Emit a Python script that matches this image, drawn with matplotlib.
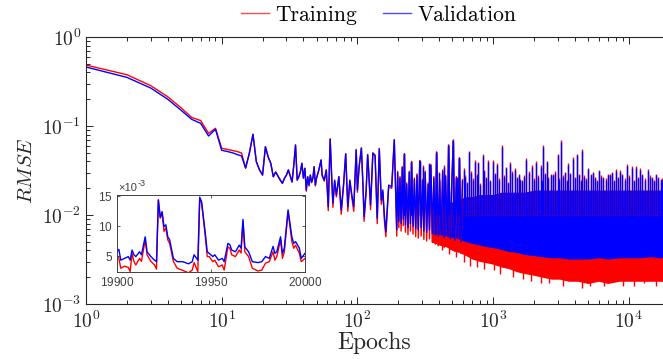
import numpy as np
import matplotlib
matplotlib.use('Agg')
import matplotlib.pyplot as plt
from matplotlib.lines import Line2D

plt.rcParams['font.family'] = 'cmr10'
plt.rcParams['mathtext.fontset'] = 'cm'
plt.rcParams['axes.formatter.use_mathtext'] = True

# --- individual epochs, read point by point ---
epochs_early = [1, 2, 3, 4, 5, 6, 7, 8, 9, 10, 11, 12, 13, 14, 15, 16, 17, 18, 19, 20,
                21, 22, 23, 24, 25, 26, 27, 28, 29, 30, 31, 32, 33, 34, 35, 36, 37, 38, 39, 40,
                41, 42, 43, 44, 45, 46, 47, 48, 49, 50, 52, 54, 55, 57, 59, 61, 63, 65, 66, 68,
                70, 73, 76, 79, 82, 85, 88, 91, 94, 98, 100, 103, 107, 110, 112, 116, 119, 121, 125, 130,
                135, 140, 145, 150, 154, 158, 162, 170, 179, 187, 190, 195,
                198, 202, 206, 210, 214, 218, 222, 226, 231, 236, 241, 246, 251, 257, 263, 269,
                275, 281, 288, 295, 302, 309, 316, 324, 332, 340, 348, 357, 366, 375, 384, 394,
                404, 414, 425, 436, 447, 459, 471, 483, 496, 509, 522, 536, 550, 565, 580, 595]
val_early = [0.460, 0.352, 0.267, 0.200, 0.151, 0.119, 0.107, 0.0772, 0.0918, 0.0533,
             0.0517, 0.0500, 0.0478, 0.0460, 0.0337, 0.0497, 0.0807, 0.0397, 0.0321, 0.0281,
             0.0585, 0.0449, 0.0381, 0.0269, 0.0304, 0.0274, 0.0247, 0.0227, 0.0258, 0.0281,
             0.0321, 0.0274, 0.0235, 0.0365, 0.0612, 0.0247, 0.0269, 0.0304, 0.0381, 0.0260,
             0.0335, 0.0191, 0.0269, 0.0217, 0.0281, 0.0235, 0.0260, 0.0349, 0.0217, 0.0260,
             0.0321, 0.0415, 0.0281, 0.0247, 0.0321, 0.0124, 0.0709, 0.0217, 0.0136, 0.0247,
             0.0168, 0.0269, 0.0114, 0.0217, 0.0484, 0.0124, 0.0247, 0.0168, 0.0124, 0.0537,
             0.0191, 0.0349, 0.0562, 0.0217, 0.0096, 0.0191, 0.0472, 0.0321, 0.0130, 0.0493,
             0.0464, 0.0092, 0.0552, 0.0147, 0.0191, 0.0100, 0.0065, 0.0217, 0.0208, 0.0696,
             0.0281, 0.0068,
             0.030, 0.0085, 0.026, 0.0080, 0.034, 0.0090, 0.048, 0.0078, 0.022, 0.0072,
             0.030, 0.0080, 0.039, 0.0075, 0.025, 0.0070, 0.028, 0.0068, 0.040, 0.0072,
             0.024, 0.0066, 0.030, 0.0064, 0.022, 0.0068, 0.036, 0.0062, 0.026, 0.0060,
             0.050, 0.0058, 0.024, 0.0060, 0.031, 0.0056, 0.027, 0.0058, 0.060, 0.0054,
             0.022, 0.068, 0.0052, 0.026, 0.0055, 0.043, 0.0050, 0.024]
train_early = [0.484, 0.377, 0.284, 0.213, 0.161, 0.125, 0.115, 0.0828, 0.0942, 0.0562,
               0.0545, 0.0531, 0.0517, 0.0497, 0.0337, 0.0497, 0.0807, 0.0397, 0.0321, 0.0281,
               0.0585, 0.0449, 0.0381, 0.0269, 0.0304, 0.0274, 0.0247, 0.0227, 0.0258, 0.0281,
               0.0321, 0.0274, 0.0235, 0.0365, 0.0612, 0.0247, 0.0269, 0.0304, 0.0381, 0.0260,
               0.0335, 0.0185, 0.0269, 0.0212, 0.0281, 0.0230, 0.0260, 0.0349, 0.0212, 0.0260,
               0.0321, 0.0415, 0.0275, 0.0240, 0.0321, 0.0112, 0.0720, 0.0210, 0.0122, 0.0240,
               0.0160, 0.0269, 0.0102, 0.0210, 0.0490, 0.0110, 0.0240, 0.0158, 0.0110, 0.0545,
               0.0180, 0.0349, 0.0570, 0.0205, 0.0085, 0.0180, 0.0480, 0.0310, 0.0115, 0.0500,
               0.0470, 0.0080, 0.0560, 0.0132, 0.0180, 0.0088, 0.0057, 0.0205, 0.0200, 0.0705,
               0.0270, 0.0058,
               0.031, 0.0072, 0.027, 0.0066, 0.035, 0.0076, 0.049, 0.0064, 0.023, 0.0060,
               0.031, 0.0066, 0.040, 0.0061, 0.026, 0.0057, 0.029, 0.0055, 0.041, 0.0058,
               0.025, 0.0053, 0.031, 0.0051, 0.023, 0.0054, 0.037, 0.0049, 0.027, 0.0047,
               0.051, 0.0045, 0.025, 0.0046, 0.032, 0.0043, 0.028, 0.0044, 0.061, 0.0041,
               0.023, 0.069, 0.0039, 0.027, 0.0041, 0.044, 0.0037, 0.025]

# --- dense part: envelope of the oscillation band ---
band_epochs = [350, 400, 450, 500, 560, 630, 700, 800, 900, 1000, 1150, 1300, 1500, 1700,
               2000, 2300, 2700, 3100, 3600, 4200, 5000, 6000, 7000, 8500, 10000, 12000,
               14500, 17000, 20000]
band_top = [0.011, 0.012, 0.013, 0.014, 0.015, 0.016, 0.016, 0.017, 0.017, 0.017, 0.018,
            0.018, 0.018, 0.018, 0.019, 0.019, 0.019, 0.019, 0.019, 0.019, 0.019, 0.019,
            0.019, 0.019, 0.019, 0.019, 0.019, 0.019, 0.019]
val_low = [0.0062, 0.0060, 0.0058, 0.0056, 0.0054, 0.0050, 0.0048, 0.0046, 0.0044, 0.0043,
           0.0041, 0.0039, 0.0038, 0.0036, 0.0035, 0.0034, 0.0033, 0.0033, 0.0032, 0.0032,
           0.0032, 0.0033, 0.0032, 0.0033, 0.0033, 0.0033, 0.0034, 0.0033, 0.0034]
train_low = [0.0050, 0.0046, 0.0044, 0.0040, 0.0038, 0.0035, 0.0032, 0.0030, 0.0029, 0.0028,
             0.0026, 0.0025, 0.0023, 0.0022, 0.0021, 0.0020, 0.0019, 0.0019, 0.0018, 0.0018,
             0.0017, 0.0018, 0.0017, 0.0018, 0.0018, 0.0018, 0.0018, 0.0018, 0.0018]

# --- tall spikes sticking out of the band ---
spike_epochs = [220, 248, 289, 306, 339, 377, 402, 435, 468, 507, 539, 564, 611, 661, 736,
                778, 839, 922, 994, 1074, 1158, 1245, 1332, 1449, 1578, 1747, 1923, 2069,
                2242, 2344, 2483, 2778, 2994, 3149, 3388, 3584, 3862, 4133, 4547, 5039, 5423,
                6064, 6490, 7068, 7484, 8009, 8614, 9770, 10490, 11300, 12100, 13930, 14750,
                15860, 17170]
spike_vals = [0.0481, 0.0391, 0.0400, 0.0349, 0.0370, 0.0501, 0.0294, 0.0349, 0.0601, 0.0684,
              0.0258, 0.0433, 0.0321, 0.0506, 0.0397, 0.0381, 0.0460, 0.0397, 0.0397, 0.0365,
              0.0585, 0.0335, 0.0374, 0.0321, 0.0247, 0.0415, 0.0349, 0.0387, 0.0349, 0.0585,
              0.0391, 0.0281, 0.0472, 0.0666, 0.0294, 0.0365, 0.0426, 0.0472, 0.0524, 0.0326,
              0.0294, 0.0311, 0.0258, 0.0281, 0.0294, 0.0315, 0.0307, 0.0358, 0.0340, 0.0340,
              0.0321, 0.0315, 0.0258, 0.0281, 0.0247]

# --- lower spikes filling the ragged top of the band ---
minor_epochs = [620, 640, 690, 710, 760, 800, 860, 890, 950, 1030, 1110, 1200, 1290, 1390,
                1500, 1540, 1640, 1690, 1830, 1990, 2150, 2300, 2400, 2560, 2650, 2870, 3070,
                3260, 3480, 3700, 3990, 4280, 4420, 4700, 4870, 5230, 5640, 5850, 6290, 6750,
                7300, 7770, 8320, 8950, 9350, 10100, 10850, 11700, 12550, 13200, 14300, 15300,
                16400, 17500]
minor_vals = [0.027, 0.023, 0.030, 0.025, 0.028, 0.022, 0.031, 0.026, 0.024, 0.029, 0.025,
              0.027, 0.023, 0.030, 0.026, 0.028, 0.024, 0.027, 0.030, 0.025, 0.027, 0.024,
              0.029, 0.026, 0.028, 0.030, 0.025, 0.027, 0.024, 0.029, 0.026, 0.028, 0.024,
              0.027, 0.025, 0.028, 0.026, 0.024, 0.027, 0.025, 0.028, 0.024, 0.026, 0.028,
              0.025, 0.027, 0.024, 0.026, 0.028, 0.025, 0.027, 0.024, 0.026, 0.025]

# --- deepest dips of the training curve ---
dip_epochs = [420, 470, 530, 610, 680, 760, 850, 1010, 1120, 1400, 1650, 1900, 2250, 2600,
              3300, 4500, 5200, 6600, 9000, 11000, 13000, 16000]
dip_vals = [0.0040, 0.0036, 0.0034, 0.0030, 0.0027, 0.0026, 0.0025, 0.0024, 0.0022, 0.0020,
            0.0019, 0.0018, 0.0017, 0.0017, 0.0016, 0.0015, 0.0016, 0.0016, 0.0016, 0.0016,
            0.0017, 0.0016]

# --- inset: last 100 epochs (values x 1e-3) ---
inset_epochs = [19900, 19901, 19902, 19904, 19906, 19907, 19908, 19909, 19910, 19912, 19913,
                19915, 19916, 19918, 19920, 19921, 19922, 19923, 19924, 19925, 19926, 19927,
                19928, 19930, 19932, 19935, 19938, 19940, 19941, 19943, 19944, 19945, 19947,
                19948, 19949, 19951, 19952, 19954, 19956, 19957, 19959, 19960, 19961, 19963,
                19965, 19966, 19967, 19968, 19970, 19972, 19975, 19977, 19979, 19981, 19983,
                19984, 19985, 19987, 19988, 19989, 19991, 19993, 19994, 19995, 19997, 19998, 20000]
inset_val = [5.7, 6.1, 4.3, 4.6, 4.9, 4.3, 6.0, 5.2, 4.9, 5.7, 5.2,
             8.2, 5.7, 4.9, 4.3, 4.05, 14.3, 11.5, 12.4, 9.9, 10.2, 8.2,
             7.7, 4.6, 4.05, 4.05, 3.7, 4.05, 5.2, 4.3, 14.8, 14.05, 8.7,
             5.7, 5.45, 4.9, 5.2, 4.3, 4.6, 4.05, 7.1, 6.9, 6.0, 5.7,
             6.8, 6.3, 11.1, 6.5, 5.7, 4.05, 3.9, 4.05, 4.9, 4.6, 6.6,
             5.45, 5.7, 8.2, 5.45, 6.3, 12.7, 8.2, 7.1, 7.4, 6.3, 4.6, 5.45]
inset_train = [5.17, 4.6, 2.95, 3.3, 3.1, 2.4, 5.4, 4.1, 3.5, 4.6, 4.1,
               7.7, 5.2, 4.1, 3.5, 2.8, 14.4, 11.3, 12.1, 9.1, 9.7, 7.7,
               7.1, 4.1, 2.95, 2.6, 2.2, 2.65, 3.9, 2.4, 14.6, 13.8, 8.2,
               4.9, 4.9, 4.05, 4.3, 3.2, 3.5, 2.65, 6.5, 6.3, 5.2, 4.9,
               6.0, 5.5, 10.7, 5.7, 4.9, 2.95, 2.5, 2.65, 3.8, 4.05, 5.7,
               4.3, 4.9, 7.7, 4.6, 5.7, 12.4, 7.4, 6.3, 6.8, 5.45, 4.05, 4.6]

red = '#ff0000'
blue = '#0000ff'
dark = '#262626'

fig = plt.figure(figsize=(6.63, 3.59), dpi=100)
ax = fig.add_axes([86 / 663, 55 / 359, 577 / 663, 267 / 359])

# training (red) first, validation (blue) on top
ax.fill_between(band_epochs, train_low, band_top, color=red, lw=0)
ax.vlines(dip_epochs, dip_vals, np.array(dip_vals) * 1.3, color=red, lw=1.0)
ax.vlines(spike_epochs, 0.010, np.array(spike_vals) * 1.04, color=red, lw=1.0)
ax.vlines(minor_epochs, 0.010, np.array(minor_vals) * 1.03, color=red, lw=1.0)
ax.plot(epochs_early, train_early, color=red, lw=1.0)

ax.fill_between(band_epochs, val_low, band_top, color=blue, lw=0)
ax.vlines(spike_epochs, 0.010, spike_vals, color=blue, lw=1.0)
ax.vlines(minor_epochs, 0.010, minor_vals, color=blue, lw=1.0)
ax.plot(epochs_early, val_early, color=blue, lw=1.0)

ax.set_xscale('log')
ax.set_yscale('log')
ax.set_xlim(1, 17870)
ax.set_ylim(1e-3, 1)
ax.spines['right'].set_visible(False)
for s in ['left', 'bottom', 'top']:
    ax.spines[s].set_color(dark)
    ax.spines[s].set_linewidth(0.8)
ax.tick_params(which='both', direction='in', top=True, right=False, colors=dark,
               labelsize=14, width=0.7)
ax.tick_params(which='major', length=5)
ax.tick_params(which='minor', length=3)
ax.tick_params(axis='x', pad=5)
ax.set_xlabel('Epochs', fontsize=17, labelpad=0, color=dark)
ax.set_ylabel('$RMSE$', fontsize=15, labelpad=4, color=dark)

handles = [Line2D([], [], color=red, lw=1.0, alpha=0.7),
           Line2D([], [], color=blue, lw=1.0, alpha=0.7)]
fig.legend(handles, ['Training', 'Validation'], loc='center', ncol=2,
           bbox_to_anchor=(0.571, 0.958), frameon=False, fontsize=15.5,
           handlelength=1.3, handletextpad=0.3, columnspacing=1.2, borderaxespad=0)

# inset with the last 100 epochs
axi = fig.add_axes([117 / 663, 87 / 359, 188 / 663, 77 / 359])
axi.plot(inset_epochs, inset_train, color=red, lw=1.0)
axi.plot(inset_epochs, inset_val, color=blue, lw=1.0)
axi.set_xlim(19900, 20000)
axi.set_ylim(2.33, 15.17)
axi.set_xticks([19900, 19950, 20000])
axi.set_yticks([5, 10, 15])
axi.tick_params(direction='in', length=2.5, width=0.6, colors='#404040',
                labelsize=8.5, top=True, right=True, pad=3)
for lab in axi.get_xticklabels() + axi.get_yticklabels():
    lab.set_family('Liberation Sans')
for s in axi.spines.values():
    s.set_color('#404040')
    s.set_linewidth(0.7)
fig.text(118 / 663, 1 - 188 / 359, '\u00d710', family='Liberation Sans', fontsize=8,
         color='#404040', va='center', ha='left')
fig.text(137.5 / 663, 1 - 184 / 359, '-3', family='Liberation Sans', fontsize=6.5,
         color='#404040', va='center', ha='left')

fig.savefig('out.png', dpi=100)
